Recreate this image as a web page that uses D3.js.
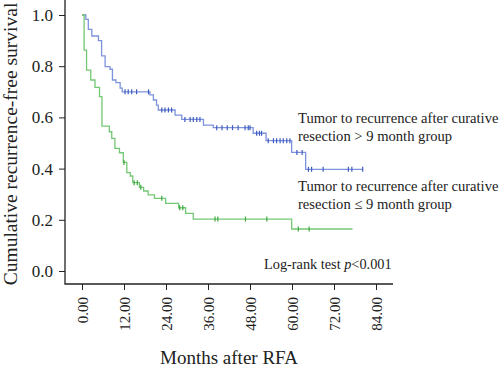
<!DOCTYPE html>
<html>
<head>
<meta charset="utf-8">
<script src="https://cdn.jsdelivr.net/npm/d3@7"></script>
<style>
  body { margin: 0; background: #fff; }
  text { font-family: "Liberation Serif", "DejaVu Serif", serif; }
</style>
</head>
<body>
<div id="chart"></div>
<script>
// step points (months, survival)
const longTimes = [0, 1.1, 1.8, 2.8, 4.7, 5.6, 6.6, 8.0, 8.7, 9.7, 10.9, 11.5, 19.4, 20.4, 21.3, 21.8, 26.6, 28.5, 34.7, 37.5, 48.9, 52.6, 59.9, 63.9, 80.2];
const longSurv  = [1.0, 0.983, 0.944, 0.918, 0.900, 0.840, 0.798, 0.788, 0.746, 0.736, 0.714, 0.700, 0.688, 0.668, 0.648, 0.629, 0.609, 0.592, 0.570, 0.560, 0.538, 0.509, 0.463, 0.397, 0.397];
const longCensor = [12.3, 13.2, 14.2, 15.6, 19.0, 22.8, 23.7, 24.7, 25.6, 29.4, 30.9, 31.8, 32.8, 33.7, 38.5, 40.0, 41.5, 43.0, 44.6, 46.6, 47.5, 48.0, 49.9, 50.7, 51.3, 53.2, 54.7, 55.6, 56.6, 57.5, 58.5, 59.4, 61.4, 62.9, 64.7, 65.6, 68.9, 76.1, 77.1, 80.2];

const shortTimes = [0, 0.6, 1.3, 2.5, 3.7, 5.0, 5.7, 7.8, 8.5, 9.4, 10.7, 11.8, 12.8, 13.8, 14.5, 16.4, 17.6, 18.9, 20.7, 23.9, 27.6, 29.6, 31.8, 59.9, 77.3];
const shortSurv  = [1.0, 0.863, 0.785, 0.746, 0.717, 0.681, 0.566, 0.544, 0.518, 0.479, 0.462, 0.424, 0.384, 0.371, 0.345, 0.327, 0.3125, 0.297, 0.284, 0.264, 0.247, 0.225, 0.203, 0.164, 0.164];
const shortCensor = [12.0, 14.9, 15.8, 16.8, 22.8, 27.9, 28.8, 38.0, 38.8, 46.7, 52.8, 61.8, 64.9];

const xTicks = [0, 12, 24, 36, 48, 60, 72, 84];
const yTicks = [0, 0.2, 0.4, 0.6, 0.8, 1.0];
const longLabel = ["Tumor to recurrence after curative", "resection > 9 month group"];
const shortLabel = ["Tumor to recurrence after curative", "resection \u2264 9 month group"];

const W = 500, H = 371;
const svg = d3.select("#chart").append("svg")
  .attr("width", W).attr("height", H);

const x = d3.scaleLinear().domain([0, 84]).range([82, 376]);
const y = d3.scaleLinear().domain([0, 1]).range([271, 15]);

// axes
const yAxis = svg.append("g")
  .attr("transform", "translate(65,0)")
  .call(d3.axisLeft(y).tickValues(yTicks).tickFormat(d3.format(".1f")).tickSize(6).tickPadding(6));
yAxis.select(".domain").remove();
yAxis.selectAll("text").style("font-size", "17px").attr("fill", "#222");
yAxis.selectAll("line").attr("stroke", "#222");

const xAxis = svg.append("g")
  .attr("transform", "translate(0,284)")
  .call(d3.axisBottom(x).tickValues(xTicks).tickFormat(d3.format(".2f")).tickSize(6));
xAxis.select(".domain").remove();
xAxis.selectAll("line").attr("stroke", "#222");
xAxis.selectAll("text")
  .style("font-size", "15px").attr("fill", "#222")
  .attr("transform", "rotate(-90)")
  .attr("text-anchor", "end")
  .attr("x", -13).attr("y", 0).attr("dy", "0.35em");

svg.append("path")
  .attr("d", "M65,0V284H393")
  .attr("fill", "none").attr("stroke", "#222").attr("stroke-width", 1.3);

// curves
const line = d3.line().curve(d3.curveStepAfter)
  .x(d => x(d[0])).y(d => y(d[1]));

function survAt(times, surv, t) {
  let s = surv[0];
  for (let i = 0; i < times.length; i++) if (times[i] <= t) s = surv[i];
  return s;
}

function drawGroup(times, surv, censor, color, tickColor) {
  svg.append("path")
    .datum(d3.zip(times, surv))
    .attr("d", line)
    .attr("fill", "none").attr("stroke", color).attr("stroke-width", 1.3);
  svg.append("g").selectAll("line")
    .data(censor)
    .join("line")
    .attr("x1", d => x(d)).attr("x2", d => x(d))
    .attr("y1", d => y(survAt(times, surv, d)) - 2.5)
    .attr("y2", d => y(survAt(times, surv, d)) + 2.5)
    .attr("stroke", tickColor).attr("stroke-width", 1.2);
}

drawGroup(longTimes, longSurv, longCensor, "#7d93dc", "#3f5cc0");
drawGroup(shortTimes, shortSurv, shortCensor, "#74c774", "#3fa83f");

// labels
function label(lines, x0, y0) {
  svg.append("text")
    .attr("x", x0).attr("y", y0)
    .style("font-size", "14.6px").attr("fill", "#222")
    .selectAll("tspan").data(lines).join("tspan")
    .attr("x", x0).attr("dy", (d, i) => i ? 18 : 0)
    .text(d => d);
}
label(longLabel, 298, 123);
label(shortLabel, 298, 191);

const lr = svg.append("text")
  .attr("x", 264).attr("y", 269)
  .style("font-size", "14.3px").attr("fill", "#222");
lr.append("tspan").text("Log-rank test ");
lr.append("tspan").attr("font-style", "italic").text("p");
lr.append("tspan").text("<0.001");

svg.append("text")
  .attr("x", 229).attr("y", 364)
  .attr("text-anchor", "middle")
  .style("font-size", "19px").attr("fill", "#222")
  .text("Months after RFA");

svg.append("text")
  .attr("transform", "translate(17,144) rotate(-90)")
  .attr("text-anchor", "middle")
  .style("font-size", "19.5px").attr("fill", "#222")
  .text("Cumulative recurrence-free survival");
</script>
</body>
</html>
